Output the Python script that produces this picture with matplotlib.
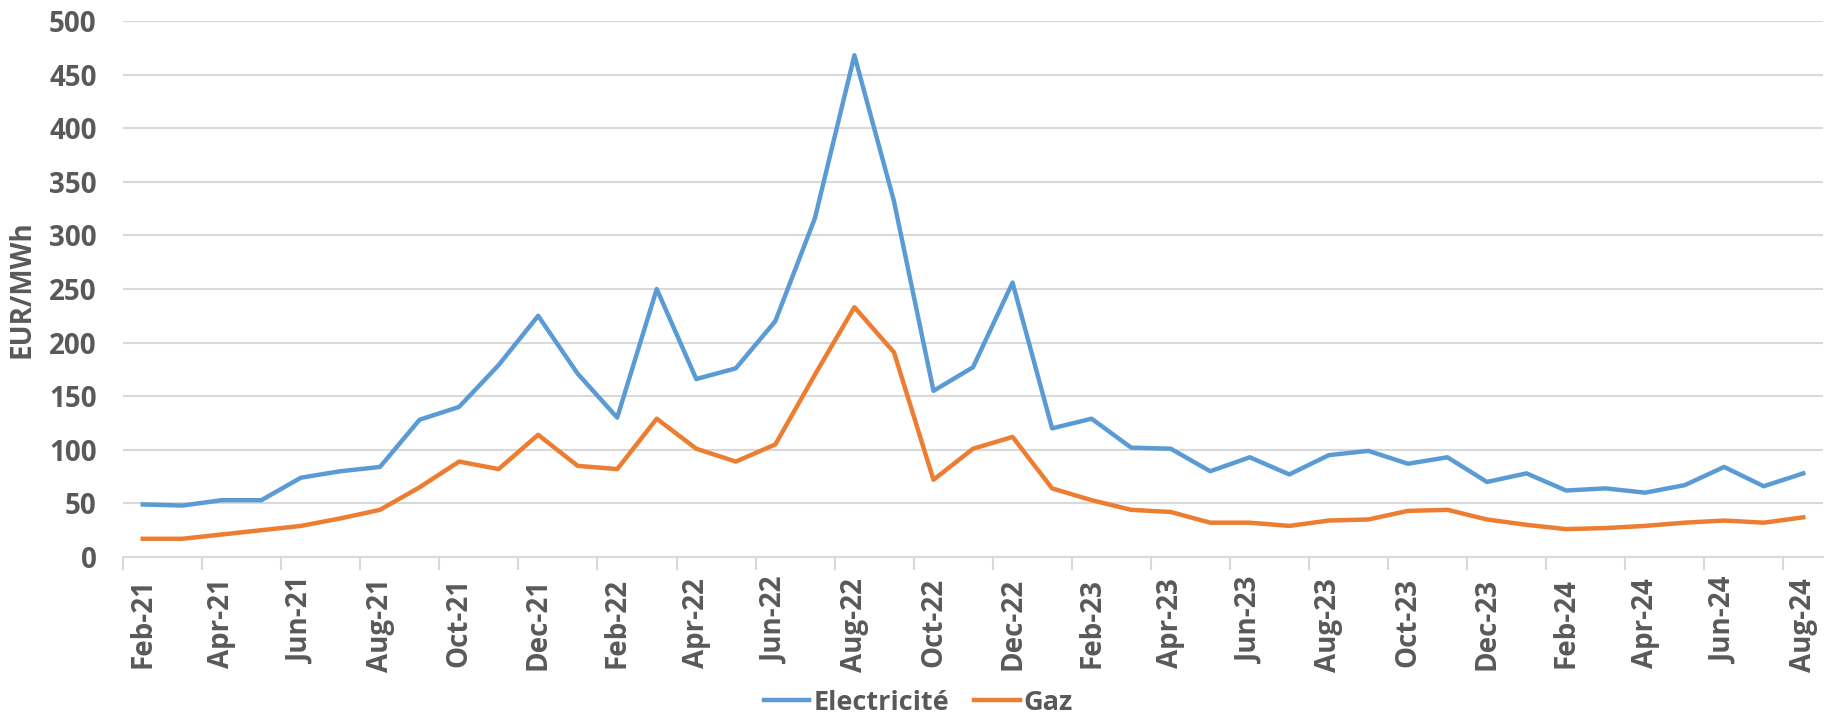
import matplotlib
matplotlib.use("Agg")
import matplotlib.pyplot as plt
import numpy as np

# monthly prices, Feb-21 .. Aug-24
months = ["Feb-21", "Mar-21", "Apr-21", "May-21", "Jun-21", "Jul-21", "Aug-21", "Sep-21",
          "Oct-21", "Nov-21", "Dec-21", "Jan-22", "Feb-22", "Mar-22", "Apr-22", "May-22",
          "Jun-22", "Jul-22", "Aug-22", "Sep-22", "Oct-22", "Nov-22", "Dec-22", "Jan-23",
          "Feb-23", "Mar-23", "Apr-23", "May-23", "Jun-23", "Jul-23", "Aug-23", "Sep-23",
          "Oct-23", "Nov-23", "Dec-23", "Jan-24", "Feb-24", "Mar-24", "Apr-24", "May-24",
          "Jun-24", "Jul-24", "Aug-24"]

electricite = [49, 48, 53, 53, 74, 80, 84, 128, 140, 179, 225, 171, 130, 250, 166, 176,
               220, 316, 468, 332, 155, 177, 256, 120, 129, 102, 101, 80, 93, 77, 95, 99,
               87, 93, 70, 78, 62, 64, 60, 67, 84, 66, 78]

gaz = [17, 17, 21, 25, 29, 36, 44, 65, 89, 82, 114, 85, 82, 129, 101, 89,
       105, 170, 233, 191, 72, 101, 112, 64, 53, 44, 42, 32, 32, 29, 34, 35,
       43, 44, 35, 30, 26, 27, 29, 32, 34, 32, 37]

text_col = "#595959"
grid_col = "#D9D9D9"
plt.rcParams['font.family'] = ['Open Sans', 'DejaVu Sans']
plt.rcParams['font.weight'] = 'bold'

fig = plt.figure(figsize=(18.39, 7.15), dpi=100)
ax = fig.add_axes([0.0669, 0.221, 0.9244, 0.7496])

x = np.arange(len(months))
ax.plot(x, electricite, color="#5B9BD5", lw=3.2, label="Electricité", solid_joinstyle="round")
ax.plot(x, gaz, color="#ED7D31", lw=3.2, label="Gaz", solid_joinstyle="round")

ax.set_xlim(-0.5, len(months) - 0.5)
ax.set_ylim(0, 500)
ax.set_yticks(np.arange(0, 501, 50))
ax.yaxis.grid(True, color=grid_col, lw=1.5)
ax.set_axisbelow(True)

# labels on every second month, tick marks between categories
ax.set_xticks(x[::2])
ax.set_xticklabels(months[::2], rotation=90, fontsize=20, fontweight="bold", color=text_col)
ax.set_xticks(np.arange(-0.5, len(months), 2), minor=True)
ax.tick_params(axis="x", which="major", length=0, pad=15)
ax.tick_params(axis="x", which="minor", length=9, width=1.5, color=grid_col)
ax.tick_params(axis="y", length=0, pad=19, labelsize=20, labelcolor=text_col)
for lbl in ax.get_yticklabels():
    lbl.set_fontweight("bold")

for side in ["top", "right", "left"]:
    ax.spines[side].set_visible(False)
ax.spines["bottom"].set_color(grid_col)
ax.spines["bottom"].set_linewidth(1.5)

ax.set_ylabel("EUR/MWh", fontsize=20, fontweight="bold", color=text_col, labelpad=9)

leg = fig.legend(loc="center", bbox_to_anchor=(0.4995, 0.017), ncol=2, frameon=False,
                 fontsize=19.5, handlelength=1.67, columnspacing=0.93, handletextpad=0.15,
                 borderpad=0, borderaxespad=0)
for t in leg.get_texts():
    t.set_color(text_col)
    t.set_fontweight("bold")

fig.savefig("out.png", dpi=100)
